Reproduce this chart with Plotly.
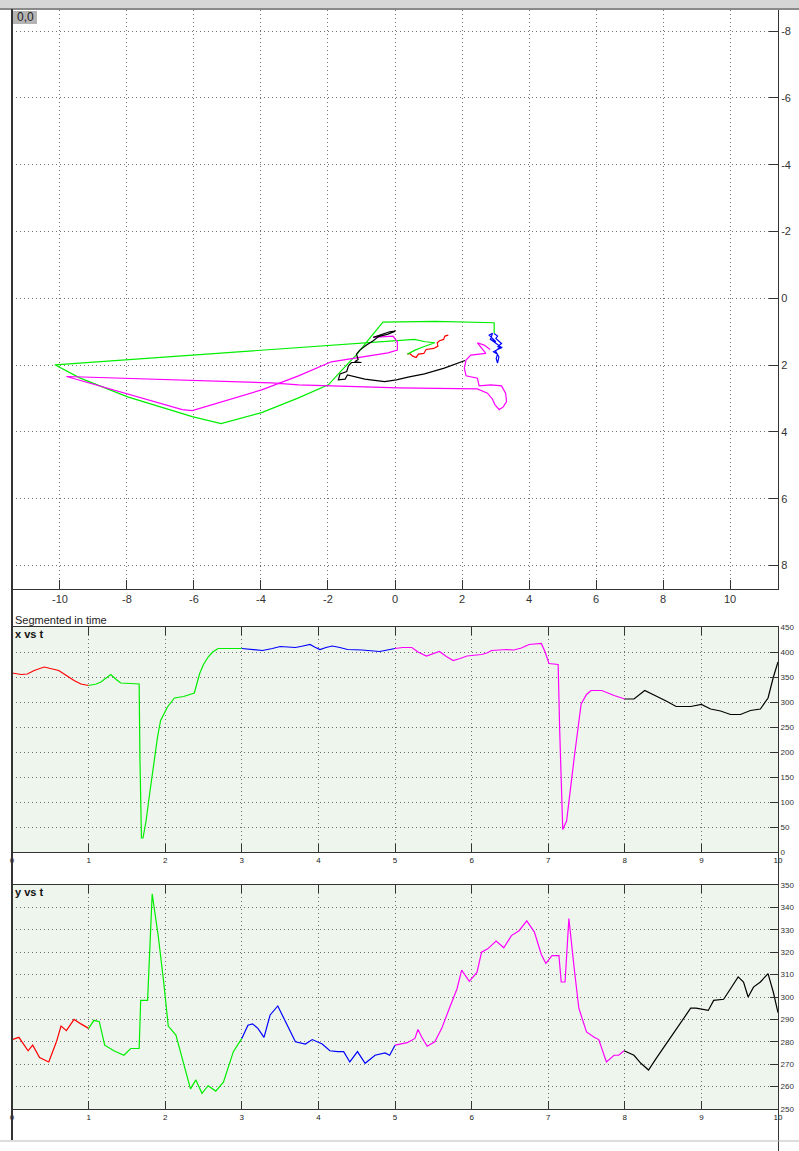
import plotly.graph_objects as go

W, H = 799, 1151

# ---------------- data: XY trajectory (top panel) ----------------
red_X = [1.59, 1.49, 1.45, 1.33, 1.26, 1.28, 1.16, 0.93, 0.86, 0.70, 0.63, 0.53, 0.44, 0.37]
red_Y = [1.10, 1.13, 1.23, 1.27, 1.33, 1.43, 1.50, 1.53, 1.65, 1.67, 1.77, 1.73, 1.65, 1.67]

green_X = [0.37, 0.60, 0.85, 1.19, 0.90, 0.58, -10.15, -9.41, -7.98, -6.05, -5.19, -3.98,
           -2.88, -1.99, -1.39, -1.16, -0.80, -0.42, -0.36, 1.20, 2.96, 2.96]
green_Y = [1.67, 1.55, 1.45, 1.33, 1.30, 1.23, 1.99, 2.38, 2.95, 3.54, 3.75, 3.42,
           2.98, 2.59, 1.94, 1.70, 1.25, 0.80, 0.71, 0.69, 0.73, 1.05]

blue_X = [2.96, 3.06, 3.01, 3.18, 3.06, 3.20, 3.06, 2.94, 3.06, 3.02, 3.06, 3.10, 3.00,
          3.15, 2.86, 3.01, 2.81, 2.91, 2.84]
blue_Y = [1.05, 1.13, 1.20, 1.35, 1.45, 1.47, 1.53, 1.60, 1.67, 1.80, 1.94, 1.75, 1.58,
          1.45, 1.23, 1.30, 1.10, 1.05, 1.25]

magenta_X = [2.84, 2.66, 2.46, 2.62, 2.71, 2.26, 2.12, 2.07, 2.12, 2.46, 2.51, 2.86, 3.18,
             3.30, 3.33, 3.23, 3.11, 2.98, 2.91, 2.76, 2.55, 2.46, 0.09, -2.88, -3.68,
             -6.83, -9.80, -6.35, -6.05, -3.98, -2.88, -1.90, -1.30, -0.21, 0.07, 0.07,
             -0.06, -0.65]
magenta_Y = [1.53, 1.40, 1.33, 1.55, 1.65, 1.70, 1.85, 2.09, 2.32, 2.39, 2.62, 2.59, 2.62,
             2.84, 3.09, 3.25, 3.33, 3.18, 3.02, 2.84, 2.75, 2.71, 2.68, 2.59, 2.53,
             2.44, 2.34, 3.33, 3.36, 2.74, 2.32, 1.90, 1.80, 1.63, 1.55, 1.30,
             1.13, 1.17]

black_X = [-0.65, -0.16, 0.01, -0.21, -0.50, -0.65, -0.85, -1.05, -1.15, -1.10, -1.20, -1.00,
           -1.30, -1.39, -1.44, -1.64, -1.69, -1.49, -1.42, -1.25, -0.90, -0.31, 0.04, 0.39,
           0.88, 1.47, 1.87, 2.09]
black_Y = [1.17, 1.00, 0.98, 1.07, 1.15, 1.27, 1.40, 1.55, 1.67, 1.83, 1.90, 1.92,
           1.92, 2.02, 2.19, 2.26, 2.44, 2.42, 2.29, 2.34, 2.42, 2.49, 2.44, 2.36,
           2.26, 2.09, 1.94, 1.86]

# ---------------- data: x vs t ----------------
red_tx = [0, 0.12, 0.20, 0.29, 0.42, 0.51, 0.61, 0.71, 0.81, 0.90, 1.0]
red_x = [358, 355, 356, 363, 370, 366, 363, 353, 343, 336, 333]

green_tx = [1.0, 1.10, 1.16, 1.29, 1.36, 1.42, 1.55, 1.66, 1.67, 1.69, 1.71, 1.75, 1.80, 1.85,
            1.90, 1.94, 2.03, 2.12, 2.24, 2.38, 2.40, 2.45, 2.50, 2.56, 2.62, 2.69, 3.0]
green_x = [333, 336, 340, 355, 345, 338, 337, 336, 189, 28, 28, 62, 120, 176,
           230, 263, 290, 308, 311, 318, 330, 357, 375, 390, 400, 407, 407]

blue_tx = [3.0, 3.15, 3.27, 3.40, 3.50, 3.60, 3.70, 3.80, 3.89, 3.95, 4.02, 4.10, 4.18, 4.28,
           4.38, 4.57, 4.70, 4.80, 4.90, 5.0]
blue_x = [407, 404, 403, 407, 411, 410, 409, 412, 415, 410, 405, 409, 412, 409,
          405, 404, 403, 401, 404, 407]

magenta_tx = [5.0, 5.10, 5.22, 5.30, 5.41, 5.50, 5.58, 5.67, 5.76, 5.85, 5.94, 6.13, 6.20,
              6.26, 6.46, 6.55, 6.65, 6.75, 6.91, 6.96, 7.01, 7.13, 7.15, 7.19, 7.24, 7.34,
              7.43, 7.50, 7.56, 7.70, 7.86, 8.0]
magenta_x = [407, 409, 409, 400, 392, 397, 401, 391, 383, 387, 392, 395, 398,
             403, 405, 404, 408, 415, 417, 400, 377, 375, 243, 45, 62, 189,
             296, 315, 323, 323, 313, 306]

black_tx = [8.0, 8.12, 8.26, 8.41, 8.54, 8.67, 8.86, 9.0, 9.12, 9.25, 9.38, 9.51, 9.64, 9.77,
            9.87, 9.94, 10.0]
black_x = [306, 306, 323, 312, 302, 291, 291, 295, 286, 282, 275, 275, 283, 286,
           308, 350, 380]

# ---------------- data: y vs t ----------------
red_ty = [0, 0.09, 0.21, 0.27, 0.36, 0.48, 0.58, 0.64, 0.71, 0.81, 0.90, 1.0]
red_y = [281, 282, 276, 278.5, 273, 271, 280, 287, 285, 290, 288, 286]

green_ty = [1.0, 1.07, 1.14, 1.21, 1.33, 1.46, 1.55, 1.66, 1.68, 1.77, 1.83, 1.91, 1.98, 2.04,
            2.14, 2.24, 2.33, 2.40, 2.48, 2.56, 2.66, 2.76, 2.89, 3.0]
green_y = [286, 289.6, 289, 278.5, 276, 274, 277, 277, 298.5, 298.5, 346, 327, 306.7, 287,
           283, 271, 259, 263, 257, 260.4, 258, 262, 275.6, 281.5]

blue_ty = [3.0, 3.08, 3.14, 3.21, 3.29, 3.37, 3.47, 3.57, 3.70, 3.83, 3.92, 4.05, 4.15, 4.25,
           4.33, 4.41, 4.51, 4.61, 4.74, 4.87, 4.93, 5.0]
blue_y = [281.5, 287.4, 288, 286, 282, 292, 296, 289, 280, 279, 281, 279, 276, 275.6,
          275.6, 271, 275.6, 270.4, 274, 275, 274, 278.5]

magenta_ty = [5.0, 5.16, 5.26, 5.30, 5.35, 5.42, 5.52, 5.61, 5.71, 5.81, 5.87, 5.97, 6.07,
              6.13, 6.21, 6.32, 6.42, 6.52, 6.62, 6.72, 6.82, 6.91, 6.97, 7.05, 7.14, 7.17,
              7.22, 7.27, 7.34, 7.40, 7.50, 7.60, 7.66, 7.76, 7.86, 7.92, 7.99]
magenta_y = [278.5, 279.6, 281.5, 285.5, 282, 278, 280, 286, 295, 303.7, 312, 307, 311,
             320, 321.5, 325, 322, 327.4, 329.6, 334, 329, 319, 315, 318.5, 318.5, 306.7,
             306.7, 335, 312.6, 295, 284.4, 282, 281, 271, 274, 274, 276]

black_ty = [7.99, 8.12, 8.21, 8.31, 8.41, 8.54, 8.64, 8.77, 8.86, 8.93, 9.09, 9.16, 9.29,
            9.38, 9.48, 9.55, 9.61, 9.68, 9.77, 9.87, 9.94, 10.0]
black_y = [276, 274, 270.4, 267.4, 272.6, 279, 284.4, 290.4, 295, 295, 294, 298.5, 299,
           303.7, 309, 306.7, 300, 304.4, 306.7, 310.4, 302, 293]

# ---------------- tick labels ----------------
top_xticks = [-10, -8, -6, -4, -2, 0, 2, 4, 6, 8, 10]
top_xlabels = ["-10", "-8", "-6", "-4", "-2", "0", "2", "4", "6", "8", "10"]
top_yticks = [-8, -6, -4, -2, 0, 2, 4, 6, 8]
top_ylabels = ["-8", "-6", "-4", "-2", "0", "2", "4", "6", "8"]
t_ticks = [0, 1, 2, 3, 4, 5, 6, 7, 8, 9, 10]
xt_ticks = [0, 50, 100, 150, 200, 250, 300, 350, 400, 450]
yt_ticks = [250, 260, 270, 280, 290, 300, 310, 320, 330, 340, 350]

colors = {"red": "#ff0000", "green": "#00ee00", "blue": "#0000ff",
          "magenta": "#ff00ff", "black": "#000000"}

fig = go.Figure()

def add(xs, ys, col, xa, ya):
    fig.add_trace(go.Scatter(x=xs, y=ys, mode="lines", xaxis=xa, yaxis=ya,
                             line=dict(color=colors[col], width=1.2),
                             showlegend=False, hoverinfo="skip"))

for xs, ys, c in [(red_X, red_Y, "red"), (green_X, green_Y, "green"),
                  (magenta_X, magenta_Y, "magenta"), (blue_X, blue_Y, "blue"),
                  (black_X, black_Y, "black")]:
    add(xs, ys, c, "x", "y")

for xs, ys, c in [(red_tx, red_x, "red"), (green_tx, green_x, "green"),
                  (blue_tx, blue_x, "blue"), (magenta_tx, magenta_x, "magenta"),
                  (black_tx, black_x, "black")]:
    add(xs, ys, c, "x2", "y2")

for xs, ys, c in [(red_ty, red_y, "red"), (green_ty, green_y, "green"),
                  (blue_ty, blue_y, "blue"), (magenta_ty, magenta_y, "magenta"),
                  (black_ty, black_y, "black")]:
    add(xs, ys, c, "x3", "y3")

def py(p):
    return 1 - p / H

def px(p):
    return p / W

FONT = "Liberation Sans, Arial, sans-serif"
dom_x = [px(12), px(778)]
grid = dict(showgrid=True, gridcolor="#707070", griddash="1px,3px", gridwidth=1,
            zeroline=False, showline=True, linecolor="#333333", linewidth=1,
            ticks="inside", tickcolor="#333333", automargin=False)

fig.update_layout(
    width=W, height=H,
    margin=dict(l=0, r=0, t=0, b=0),
    paper_bgcolor="white", plot_bgcolor="white",
    font=dict(family=FONT, color="#222222"),
    xaxis=dict(domain=dom_x, anchor="y", range=[-11.43, 11.43],
               tickvals=top_xticks, ticktext=top_xlabels, ticklen=9,
               tickfont=dict(size=11, color="#333333"), mirror=True, **grid),
    yaxis=dict(domain=[py(589), py(10)], anchor="x", side="right",
               range=[8.70, -8.63], tickvals=top_yticks, ticktext=top_ylabels,
               ticklen=9, tickfont=dict(size=11, color="#333333"), mirror=True, **grid),
    xaxis2=dict(domain=dom_x, anchor="y2", range=[0, 10], tickvals=t_ticks,
                ticklen=8, tickfont=dict(size=8, color="#222222"), mirror="ticks", **grid),
    yaxis2=dict(domain=[py(852), py(627)], anchor="x2", side="right", range=[0, 450],
                tickvals=xt_ticks, ticklen=8, tickfont=dict(size=8, color="#333333"),
                mirror=True, **grid),
    xaxis3=dict(domain=dom_x, anchor="y3", range=[0, 10], tickvals=t_ticks,
                ticklen=8, tickfont=dict(size=8, color="#222222"), mirror="ticks", **grid),
    yaxis3=dict(domain=[py(1109), py(885)], anchor="x3", side="right", range=[250, 350],
                tickvals=yt_ticks, ticklen=8, tickfont=dict(size=8, color="#333333"),
                mirror=True, **grid),
)

shapes = [
    # panel backgrounds
    dict(type="rect", xref="x2 domain", yref="y2 domain", x0=0, x1=1, y0=0, y1=1,
         fillcolor="#eef5ec", line=dict(width=0), layer="below"),
    dict(type="rect", xref="x3 domain", yref="y3 domain", x0=0, x1=1, y0=0, y1=1,
         fillcolor="#eef5ec", line=dict(width=0), layer="below"),
    # window chrome
    dict(type="rect", xref="paper", yref="paper", x0=0, x1=1, y0=py(8), y1=1,
         fillcolor="#d6d6d6", line=dict(width=0)),
    dict(type="line", xref="paper", yref="paper", x0=0, x1=1, y0=py(9), y1=py(9),
         line=dict(color="#8a8a8a", width=2)),
    dict(type="line", xref="paper", yref="paper", x0=px(12), x1=px(12), y0=py(1140), y1=py(9),
         line=dict(color="#333333", width=2)),
    dict(type="line", xref="paper", yref="paper", x0=px(778.5), x1=px(778.5), y0=0, y1=py(627),
         line=dict(color="#333333", width=1)),
    dict(type="line", xref="paper", yref="paper", x0=0, x1=1, y0=py(1141), y1=py(1141),
         line=dict(color="#bbbbbb", width=1)),
    # "0,0" box
    dict(type="rect", xref="paper", yref="paper", x0=px(13), x1=px(37), y0=py(24), y1=py(11),
         fillcolor="#b4b4b4", line=dict(width=0)),
]
fig.update_layout(shapes=shapes)

fig.update_layout(annotations=[
    dict(text="0,0", xref="paper", yref="paper", x=px(15), y=py(17.5), xanchor="left",
         yanchor="middle", showarrow=False, font=dict(size=12, color="#222222")),
    dict(text="Segmented in time", xref="paper", yref="paper", x=px(13), y=py(620),
         xanchor="left", yanchor="middle", showarrow=False,
         font=dict(size=11, color="#222222")),
    dict(text="<b>x vs t</b>", xref="paper", yref="paper", x=px(13), y=py(634),
         xanchor="left", yanchor="middle", showarrow=False,
         font=dict(size=11, color="#111111")),
    dict(text="<b>y vs t</b>", xref="paper", yref="paper", x=px(13), y=py(892),
         xanchor="left", yanchor="middle", showarrow=False,
         font=dict(size=11, color="#111111")),
])

fig.write_html("out.html", config={"displayModeBar": False},
               post_script="document.body.style.margin='0px';document.body.style.overflow='hidden';")
